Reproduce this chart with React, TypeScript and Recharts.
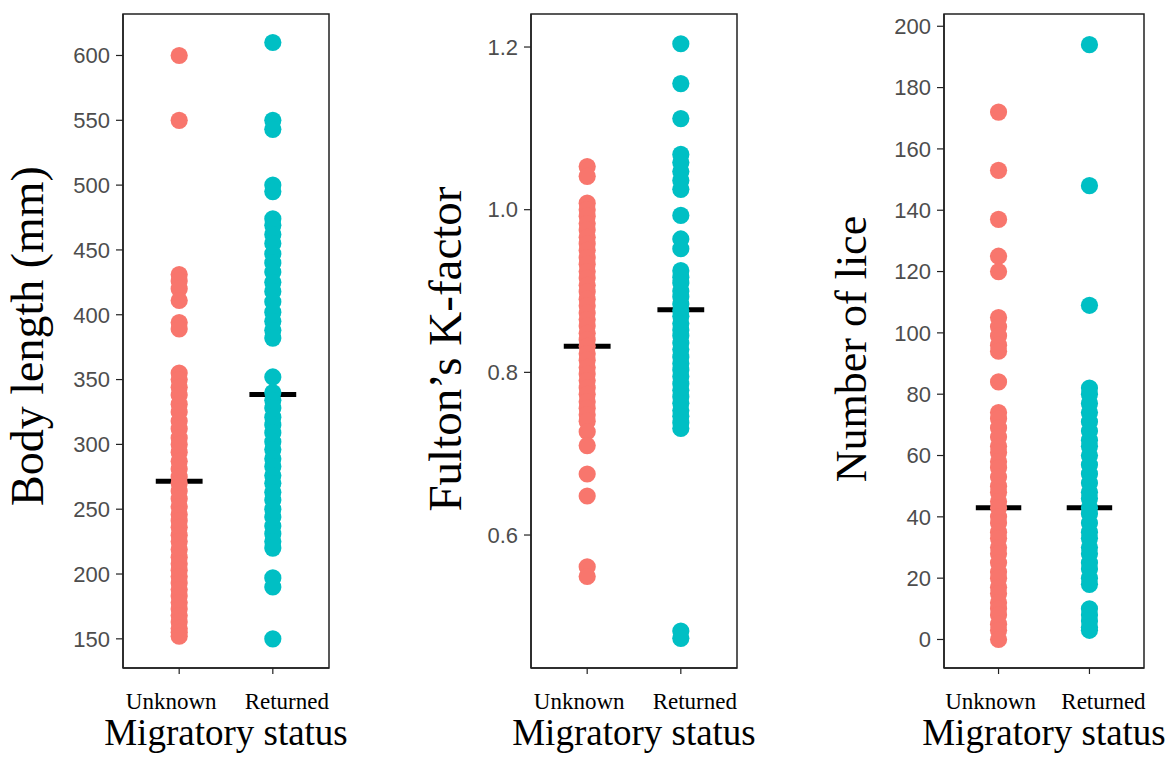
import { ScatterChart, Scatter, XAxis, YAxis, ReferenceLine, ReferenceArea } from 'recharts';

const statuses = ['Unknown', 'Returned'];

// Body length (mm)
const bodyUnknown = [600, 550, 431, 426, 420, 411, 394, 389, 355, 350, 344, 338, 331, 325, 318, 312, 305, 300, 294, 287, 281, 275, 270, 264, 258, 252, 246, 241, 236, 230, 225, 219, 213, 208, 203, 198, 193, 188, 183, 178, 173, 168, 163, 158, 155, 152];
const bodyReturned = [610, 550, 543, 500, 495, 474, 469, 462, 455, 447, 440, 433, 425, 418, 410, 402, 395, 388, 382, 352, 340, 334, 328, 321, 315, 309, 302, 296, 289, 283, 276, 270, 263, 257, 250, 244, 237, 231, 225, 220, 197, 190, 150];
const bodyMeans = [271.5, 338.5];
const bodyTicks = [150, 200, 250, 300, 350, 400, 450, 500, 550, 600];

// Fulton's K-factor
const fultonUnknown = [1.053, 1.041, 1.008, 1.0, 0.992, 0.983, 0.975, 0.966, 0.958, 0.95, 0.941, 0.933, 0.924, 0.916, 0.907, 0.899, 0.89, 0.882, 0.873, 0.865, 0.857, 0.848, 0.84, 0.832, 0.823, 0.815, 0.806, 0.798, 0.79, 0.781, 0.773, 0.764, 0.756, 0.748, 0.74, 0.727, 0.71, 0.675, 0.648, 0.561, 0.549];
const fultonReturned = [1.204, 1.155, 1.112, 1.068, 1.058, 1.047, 1.036, 1.025, 0.993, 0.964, 0.952, 0.925, 0.917, 0.91, 0.9, 0.893, 0.884, 0.876, 0.869, 0.86, 0.852, 0.845, 0.836, 0.828, 0.819, 0.811, 0.803, 0.795, 0.786, 0.778, 0.77, 0.762, 0.753, 0.746, 0.738, 0.731, 0.482, 0.473];
const fultonMeans = [0.832, 0.877];
const fultonTicks = [0.6, 0.8, 1.0, 1.2];

// Number of lice
const liceUnknown = [172, 153, 137, 125, 120, 105, 102, 99, 96, 94, 84, 74, 72, 69, 66, 63, 61, 58, 56, 53, 50, 48, 45, 43, 40, 38, 35, 33, 30, 28, 25, 22, 20, 17, 15, 12, 10, 8, 5, 3, 0];
const liceReturned = [194, 148, 109, 82, 80, 77, 74, 71, 68, 65, 63, 60, 57, 54, 51, 48, 46, 43, 41, 38, 35, 33, 30, 28, 25, 23, 20, 18, 10, 8, 6, 4, 3];
const liceMeans = [43, 43];
const liceTicks = [0, 20, 40, 60, 80, 100, 120, 140, 160, 180, 200];

const COLORS = ['#F8766D', '#00BFC4'];
const SERIF = '"Liberation Serif", "Times New Roman", serif';
const SANS = '"Liberation Sans", Arial, sans-serif';
const BORDER = '#222';

const PLOT_TOP = 14;
const AXIS_W = 100;
const HEIGHT = 758;
const X_AXIS_H = 90;

function Dot(props: any) {
  return <circle cx={props.cx} cy={props.cy} r={8.6} fill={props.fill} />;
}

// labels sit a bit off their ticks in the original figure
function StatusTick(props: any) {
  const { x, y, payload } = props;
  const dx = payload.value === 1 ? -8 : 14;
  return (
    <text x={x + dx} y={y + 33} textAnchor="middle" fill="#000" fontSize={23} fontFamily={SERIF}>
      {statuses[payload.value - 1]}
    </text>
  );
}

interface PanelProps {
  left: number;
  width: number;
  unknown: number[];
  returned: number[];
  means: number[];
  ticks: number[];
  domain: [number, number];
  fmt?: (v: number) => string;
}

function Panel({ left, width, unknown, returned, means, ticks, domain, fmt }: PanelProps) {
  const series = [unknown, returned].map((vals, i) => vals.map((v) => ({ x: i + 1, y: v })));
  return (
    <div style={{ position: 'absolute', left: left - AXIS_W, top: 0 }}>
      <ScatterChart
        width={AXIS_W + width + 10}
        height={HEIGHT}
        margin={{ top: PLOT_TOP, right: 10, bottom: 0, left: 0 }}
      >
        <XAxis
          type="number"
          dataKey="x"
          domain={[0.4, 2.6]}
          ticks={[1, 2]}
          interval={0}
          allowDataOverflow
          height={X_AXIS_H}
          tickSize={6}
          tick={<StatusTick />}
          axisLine={{ stroke: BORDER, strokeWidth: 1.5 }}
          tickLine={{ stroke: BORDER, strokeWidth: 1.2 }}
        />
        <YAxis
          type="number"
          dataKey="y"
          domain={domain}
          ticks={ticks}
          interval={0}
          allowDataOverflow
          width={AXIS_W}
          tickSize={7}
          tickMargin={6}
          tickFormatter={fmt}
          tick={{ fill: '#4d4d4d', fontSize: 22, fontFamily: SANS }}
          axisLine={{ stroke: BORDER, strokeWidth: 1.5 }}
          tickLine={{ stroke: BORDER, strokeWidth: 1.2 }}
        />
        <ReferenceArea
          x1={0.4}
          x2={2.6}
          y1={domain[0]}
          y2={domain[1]}
          fill="none"
          stroke={BORDER}
          strokeWidth={1.5}
          ifOverflow="visible"
        />
        {series.map((d, i) => (
          <Scatter key={statuses[i]} data={d} fill={COLORS[i]} shape={Dot} isAnimationActive={false} />
        ))}
        {means.map((m, i) => (
          <ReferenceLine
            key={statuses[i]}
            segment={[
              { x: i + 0.75, y: m },
              { x: i + 1.25, y: m },
            ]}
            stroke="#000"
            strokeWidth={5}
          />
        ))}
      </ScatterChart>
    </div>
  );
}

export default function App() {
  return (
    <div style={{ position: 'absolute', left: 0, top: 0, width: 1175, height: HEIGHT, background: '#fff' }}>
      <Panel
        left={123}
        width={206}
        unknown={bodyUnknown}
        returned={bodyReturned}
        means={bodyMeans}
        ticks={bodyTicks}
        domain={[127.5, 632]}
      />
      <Panel
        left={531}
        width={206}
        unknown={fultonUnknown}
        returned={fultonReturned}
        means={fultonMeans}
        ticks={fultonTicks}
        domain={[0.4365, 1.2406]}
        fmt={(v) => v.toFixed(1)}
      />
      <Panel
        left={944}
        width={200}
        unknown={liceUnknown}
        returned={liceReturned}
        means={liceMeans}
        ticks={liceTicks}
        domain={[-9.3, 204]}
      />
      <svg
        width={1175}
        height={HEIGHT}
        style={{ position: 'absolute', left: 0, top: 0, pointerEvents: 'none' }}
        fontFamily={SERIF}
        fill="#000"
      >
        <text x={43} y={336} fontSize={46} textAnchor="middle" transform="rotate(-90, 43, 336)">
          Body length (mm)
        </text>
        <text x={461} y={349} fontSize={47} textAnchor="middle" transform="rotate(-90, 461, 349)">
          Fulton’s K-factor
        </text>
        <text x={866} y={349} fontSize={44} textAnchor="middle" transform="rotate(-90, 866, 349)">
          Number of lice
        </text>
        <text x={226} y={745} fontSize={37} textAnchor="middle">Migratory status</text>
        <text x={634} y={745} fontSize={37} textAnchor="middle">Migratory status</text>
        <text x={1044} y={745} fontSize={37} textAnchor="middle">Migratory status</text>
      </svg>
    </div>
  );
}
